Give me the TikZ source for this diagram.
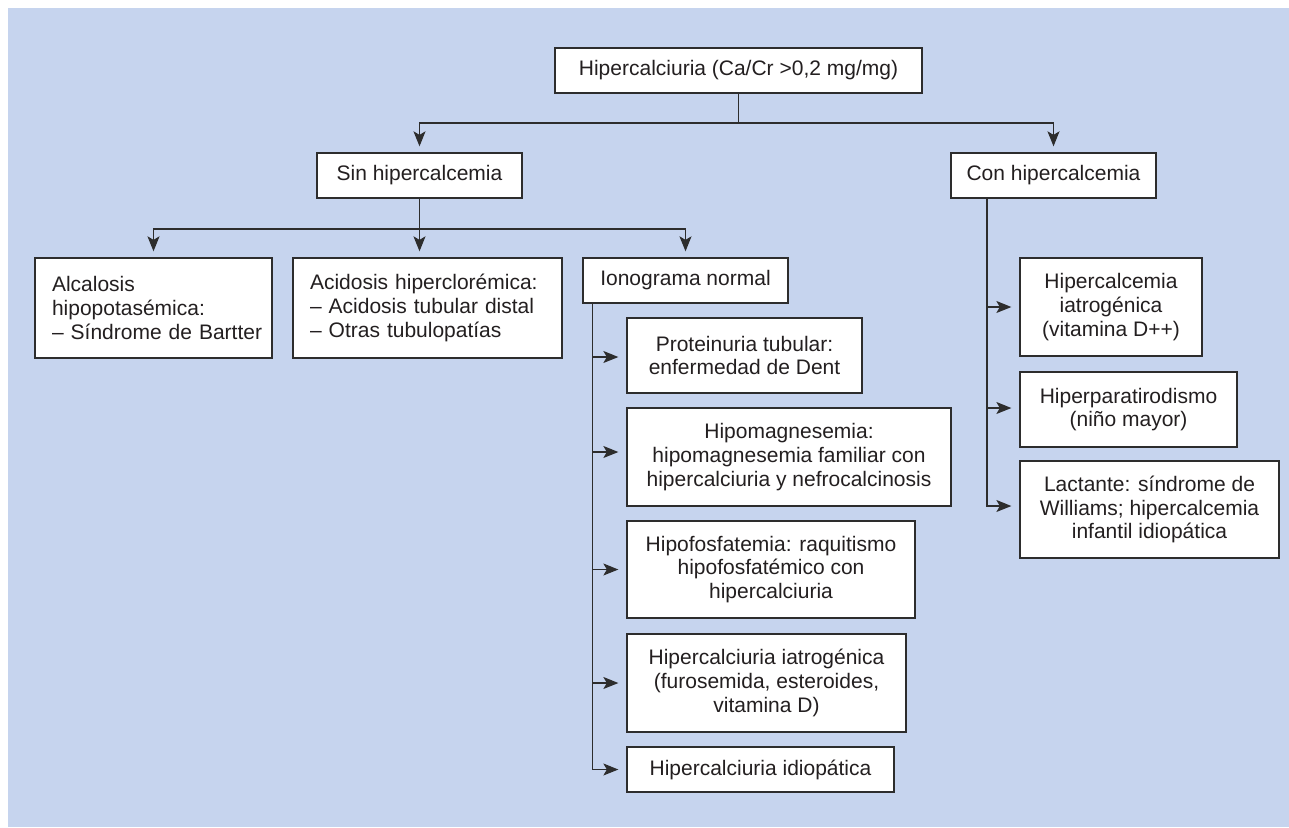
\documentclass[tikz,border=0pt]{standalone}
\usepackage{fontspec}
\setmainfont{Liberation Sans}
\usetikzlibrary{arrows.meta}
\definecolor{panel}{RGB}{198,212,238}
\definecolor{ink}{RGB}{45,45,45}
\definecolor{txt}{RGB}{35,31,32}
\begin{document}
\begin{tikzpicture}[x=1pt,y=-1pt,
  box/.style={draw=ink, line width=1.3pt, fill=white, inner sep=0pt, text=txt,
    font=\fontsize{21}{23.7}\selectfont, align=center},
  lbox/.style={box, align=left, inner xsep=17pt},
  link/.style={draw=ink, line width=1.3pt},
  arr/.style={link, -{Stealth[length=15pt,width=12pt,inset=3.5pt]}, shorten >=6pt},
]
\useasboundingbox (0,0) rectangle (1289,827);
\fill[panel] (8,8) rectangle (1289,827);

\node[box, minimum width=367pt, minimum height=45pt] (top) at (738.5,70.5) {Hipercalciuria (Ca/Cr >0,2 mg/mg)};
\node[box, minimum width=205pt, minimum height=45pt] (sin) at (419.5,175.5) {Sin hipercalcemia};
\node[box, minimum width=205pt, minimum height=45pt] (con) at (1053.5,175.5) {Con hipercalcemia};

\node[lbox, text width=203pt, minimum height=100pt] (alc) at (153.5,308) {\mbox{Alcalosis}\\\mbox{hipopotasémica:}\\\mbox{– Síndrome de Bartter}};
\node[lbox, text width=235pt, minimum height=100pt] (aci) at (427.5,308) {\mbox{Acidosis hiperclorémica:}\\\mbox{– Acidosis tubular distal}\\\mbox{– Otras tubulopatías}};
\node[box, minimum width=205pt, minimum height=45pt] (iono) at (685.5,280.5) {Ionograma normal};

\node[box, minimum width=235pt, minimum height=75pt] (prot) at (744.5,355.5) {Proteinuria tubular:\\enfermedad de Dent};
\node[box, minimum width=324pt, minimum height=98pt] (hmag) at (789,457) {Hipomagnesemia:\\hipomagnesemia familiar con\\hipercalciuria y nefrocalcinosis};
\node[box, minimum width=288pt, minimum height=97pt] (hfos) at (771,569.5) {Hipofosfatemia: raquitismo\\hipofosfatémico con\\hipercalciuria};
\node[box, minimum width=279pt, minimum height=98pt] (hiat) at (766.5,683) {Hipercalciuria iatrogénica\\(furosemida, esteroides,\\vitamina D)};
\node[box, minimum width=267pt, minimum height=45pt] (hidi) at (760.5,769.5) {Hipercalciuria idiopática};

\node[box, minimum width=182pt, minimum height=98pt] (cia) at (1111,307) {Hipercalcemia\\iatrogénica\\(vitamina D++)};
\node[box, minimum width=217pt, minimum height=75pt] (hpar) at (1128.5,409.5) {Hiperparatirodismo\\(niño mayor)};
\node[box, minimum width=259pt, minimum height=97pt] (lac) at (1149.5,509.5) {Lactante: síndrome de\\Williams; hipercalcemia\\infantil idiopática};

% level 1
\coordinate (j1) at (738.5,123);
\draw[link] (top.south) -- (j1);
\draw[arr] (j1) -| (sin.north);
\draw[arr] (j1) -| (con.north);

% level 2 (sin)
\coordinate (j2) at (419.5,229);
\draw[link] (sin.south) -- (j2);
\draw[arr] (j2) -| (alc.north);
\draw[arr] (j2) -- (j2 |- aci.north);
\draw[arr] (j2) -| (iono.north);

% ionograma children
\coordinate (v1) at ([xshift=10pt]iono.south west);
\coordinate (protw) at ([yshift=-1.5pt]prot.west);
\coordinate (hmagw) at ([yshift=5pt]hmag.west);
\draw[arr, shorten >=8pt] (v1) |- (hidi.west);
\draw[arr, shorten >=8pt] (v1 |- protw) -- (protw);
\draw[arr, shorten >=8pt] (v1 |- hmagw) -- (hmagw);
\draw[arr, shorten >=8pt] (v1 |- hfos.west) -- (hfos.west);
\draw[arr, shorten >=8pt] (v1 |- hiat.west) -- (hiat.west);

% con children
\coordinate (v2) at ([xshift=-66.5pt]con.south);
\coordinate (lacw) at ([yshift=3.5pt]lac.west);
\coordinate (hparw) at ([yshift=1.5pt]hpar.west);
\draw[arr, shorten >=8pt] (v2) |- (lacw);
\draw[arr, shorten >=8pt] (v2 |- cia.west) -- (cia.west);
\draw[arr, shorten >=8pt] (v2 |- hparw) -- (hparw);
\end{tikzpicture}
\end{document}
